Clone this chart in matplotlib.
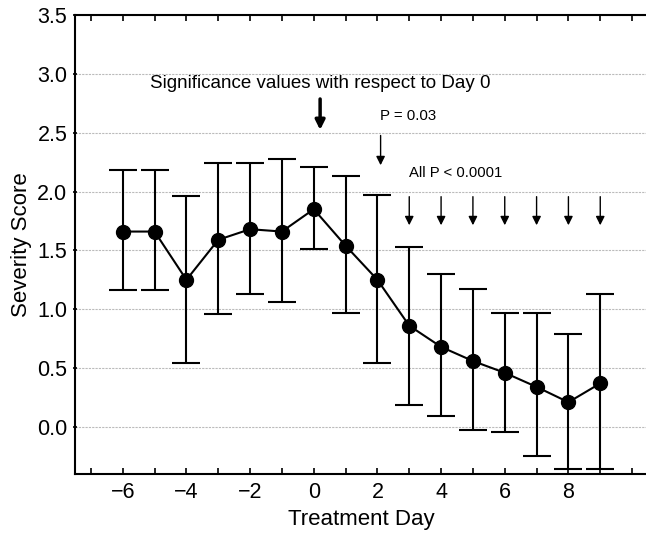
import matplotlib
matplotlib.use("Agg")
import matplotlib.pyplot as plt
import numpy as np

plt.rcParams['font.family'] = ['Liberation Sans', 'DejaVu Sans']

# data
days = [-6, -5, -4, -3, -2, -1, 0, 1, 2, 3, 4, 5, 6, 7, 8, 9]
score = [1.66, 1.66, 1.25, 1.59, 1.68, 1.66, 1.85, 1.54, 1.25, 0.86, 0.68, 0.56, 0.46, 0.34, 0.21, 0.37]
upper = [2.18, 2.18, 1.96, 2.24, 2.24, 2.28, 2.21, 2.13, 1.97, 1.53, 1.30, 1.17, 0.97, 0.97, 0.79, 1.13]
lower = [1.16, 1.16, 0.54, 0.96, 1.13, 1.06, 1.51, 0.97, 0.54, 0.19, 0.09, -0.03, -0.04, -0.25, -0.36, -0.36]
sig_days = [3, 4, 5, 6, 7, 8, 9]

score_arr = np.array(score)
yerr = [score_arr - np.array(lower), np.array(upper) - score_arr]

fig = plt.figure(figsize=(6.46, 5.33), dpi=100)
ax = fig.add_axes([75 / 646, 1 - 474 / 533, 573 / 646, 459 / 533])

ax.errorbar(days, score, yerr=yerr, color="black", lw=1.5, elinewidth=1.5,
            capsize=10, capthick=1.5, marker="o", markersize=10, zorder=3)

ax.set_xlim(-7.5, 10.5)
ax.set_ylim(-0.4, 3.5)
ax.set_xticks([-6, -4, -2, 0, 2, 4, 6, 8])
ax.set_xticklabels(["\u22126", "\u22124", "\u22122", "0", "2", "4", "6", "8"])
ax.set_xticks(np.arange(-7, 11), minor=True)
ax.set_yticks(np.arange(0, 3.51, 0.5))
ax.yaxis.grid(True, ls=(0, (2, 1)), color="#bbbbbb", lw=0.8)
ax.set_axisbelow(True)

for s in ax.spines.values():
    s.set_linewidth(1.5)
ax.tick_params(axis="x", which="both", direction="in", top=True, length=4,
               width=1.2, labelsize=15.5, pad=6)
ax.tick_params(axis="y", direction="inout", length=3, width=1.2,
               labelsize=15.5, right=True, pad=4)

ax.set_xlabel("Treatment Day", fontsize=16)
ax.set_ylabel("Severity Score", fontsize=16)

ax.text(0.2, 2.92, "Significance values with respect to Day 0", ha="center",
        va="center", fontsize=13.5)
ax.annotate("", xy=(0.2, 2.5), xytext=(0.2, 2.81),
            arrowprops=dict(arrowstyle="-|>", color="black", lw=2.5,
                            mutation_scale=14))
ax.text(2.07, 2.64, "P = 0.03", ha="left", va="center", fontsize=10.8)
ax.annotate("", xy=(2.1, 2.2), xytext=(2.1, 2.5),
            arrowprops=dict(arrowstyle="-|>", color="black", lw=1,
                            mutation_scale=13))
ax.text(3.0, 2.16, "All P < 0.0001", ha="left", va="center", fontsize=10.7)
for d in sig_days:
    ax.annotate("", xy=(d, 1.69), xytext=(d, 1.98),
                arrowprops=dict(arrowstyle="-|>", color="black", lw=1,
                                mutation_scale=13))

fig.savefig("out.png", dpi=100)
